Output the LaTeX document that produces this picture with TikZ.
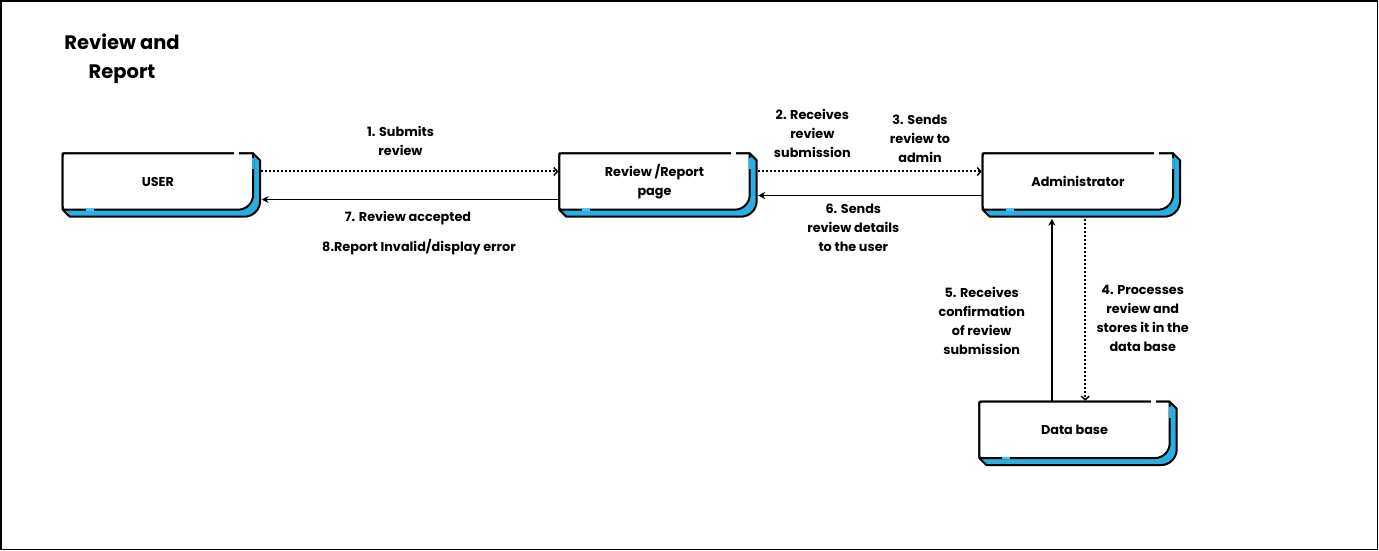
\documentclass[tikz,border=0pt]{standalone}
\usepackage{fontspec}
\setmainfont{Poppins}
\usetikzlibrary{calc,arrows.meta,backgrounds}
\definecolor{cardblue}{HTML}{2AAEE2}
\definecolor{cardlight}{HTML}{4FC3EE}
\tikzset{
  cardline/.style={draw=black, line width=2bp, line join=round},
  card/.style={inner sep=0pt, minimum width=190bp, minimum height=56bp, anchor=north west,
    font=\bfseries\fontsize{12.8bp}{19bp}\selectfont, align=center},
  lbl/.style={inner sep=0pt, align=center, font=\bfseries\fontsize{12.8bp}{19bp}\selectfont},
  dotarrow/.style={line width=2bp, dash pattern=on 2bp off 2bp, -{Straight Barb[length=3.5bp,width=8bp,line width=1.5bp]}},
  solidarrow/.style={line width=1.5bp, -{Stealth[length=7bp,width=7bp]}},
}
\newcommand\drawcard[1]{%
\begin{pgfonlayer}{background}
 \filldraw[cardline, fill=cardblue]
  (#1.north west) -- (#1.north east) -- ($(#1.north east)+(7,7)$)
  -- ($(#1.south east)+(7,-9)$)
  .. controls ($(#1.south east)+(7,0)$) and ($(#1.south east)+(0,7)$) .. ($(#1.south east)+(-9,7)$)
  -- ($(#1.south west)+(7,7)$) -- (#1.south west) -- cycle;
 \filldraw[cardline, fill=white]
  ($(#1.north west)+(0,3)$) .. controls (#1.north west) .. ($(#1.north west)+(3,0)$)
  -- (#1.north east) -- ($(#1.south east)+(0,-15)$)
  .. controls ($(#1.south east)+(0,-6.7)$) and ($(#1.south east)+(-6.7,0)$) .. ($(#1.south east)+(-15,0)$)
  -- ($(#1.south west)+(3,0)$) .. controls (#1.south west) .. ($(#1.south west)+(0,-3)$) -- cycle;
 \draw[white, line width=2.6bp] ($(#1.north east)+(-19,0)$) -- ($(#1.north east)+(-14,0)$);
 \draw[cardblue, line width=2.4bp] ($(#1.north east)+(0,5)$) -- ($(#1.north east)+(0,16)$);
 \draw[cardlight, line width=2.6bp] ($(#1.south west)+(23,0)$) -- ($(#1.south west)+(31,0)$);
\end{pgfonlayer}}
\begin{document}
\begin{tikzpicture}[x=1bp, y=-1bp]
\useasboundingbox (0,0) rectangle (1379,551);
\begin{pgfonlayer}{background}
\fill[white] (0,0) rectangle (1379,551);
\end{pgfonlayer}
\draw[line width=1.5bp] (0.8,0.8) rectangle (1377.6,549.6);

\node[lbl, font=\bfseries\fontsize{19.5bp}{29bp}\selectfont] (title) at (122,58.5) {Review and\\Report};

\node[card] (user) at (62.7,153.3) {USER};
\node[card] (review) at (559.3,153.3) {Review /Report\\page};
\node[card] (admin) at (982.7,153.3) {Administrator};
\node[card] (db) at (979.3,401.7) {Data base};
\drawcard{user}
\drawcard{review}
\drawcard{admin}
\drawcard{db}

% connectors
\draw[dotarrow] ($(user.east)+(8,-10)$) -- ($(review.west)+(-1,-10)$);
\draw[solidarrow] ($(review.west)+(0,18)$) -- ($(user.east)+(8.5,18)$);
\draw[dotarrow] ($(review.east)+(8,-10)$) -- ($(admin.west)+(-1,-10)$);
\draw[solidarrow] ($(admin.west)+(0,14)$) -- ($(review.east)+(8.5,14)$);
\coordinate (dbup) at ($(db.north)+(-22.6,0)$);
\coordinate (dbdown) at ($(db.north)+(10.7,0)$);
\draw[solidarrow] (dbup) -- ($(dbup |- admin.south)+(0,9)$);
\draw[dotarrow] ($(dbdown |- admin.south)+(0,9)$) -- ($(dbdown)+(0,-1)$);

% labels
\node[lbl] (l1) at (400.5,141) {1. Submits\\review};
\node[lbl] (l7) at (408,217.7) {7. Review accepted};
\node[lbl] (l8) at (419,246.7) {8.Report Invalid/display error};
\node[lbl] (l2) at (812.3,133.7) {2. Receives\\review\\submission};
\node[lbl] (l3) at (920,138.7) {3. Sends\\review to\\admin};
\node[lbl] (l6) at (853.3,227.7) {6. Sends\\review details\\to the user};
\node[lbl] (l5) at (981.7,321.3) {5. Receives\\confirmation\\of review\\submission};
\node[lbl] (l4) at (1142.7,318.7) {4. Processes\\review and\\stores it in the\\data base};
\end{tikzpicture}
\end{document}
